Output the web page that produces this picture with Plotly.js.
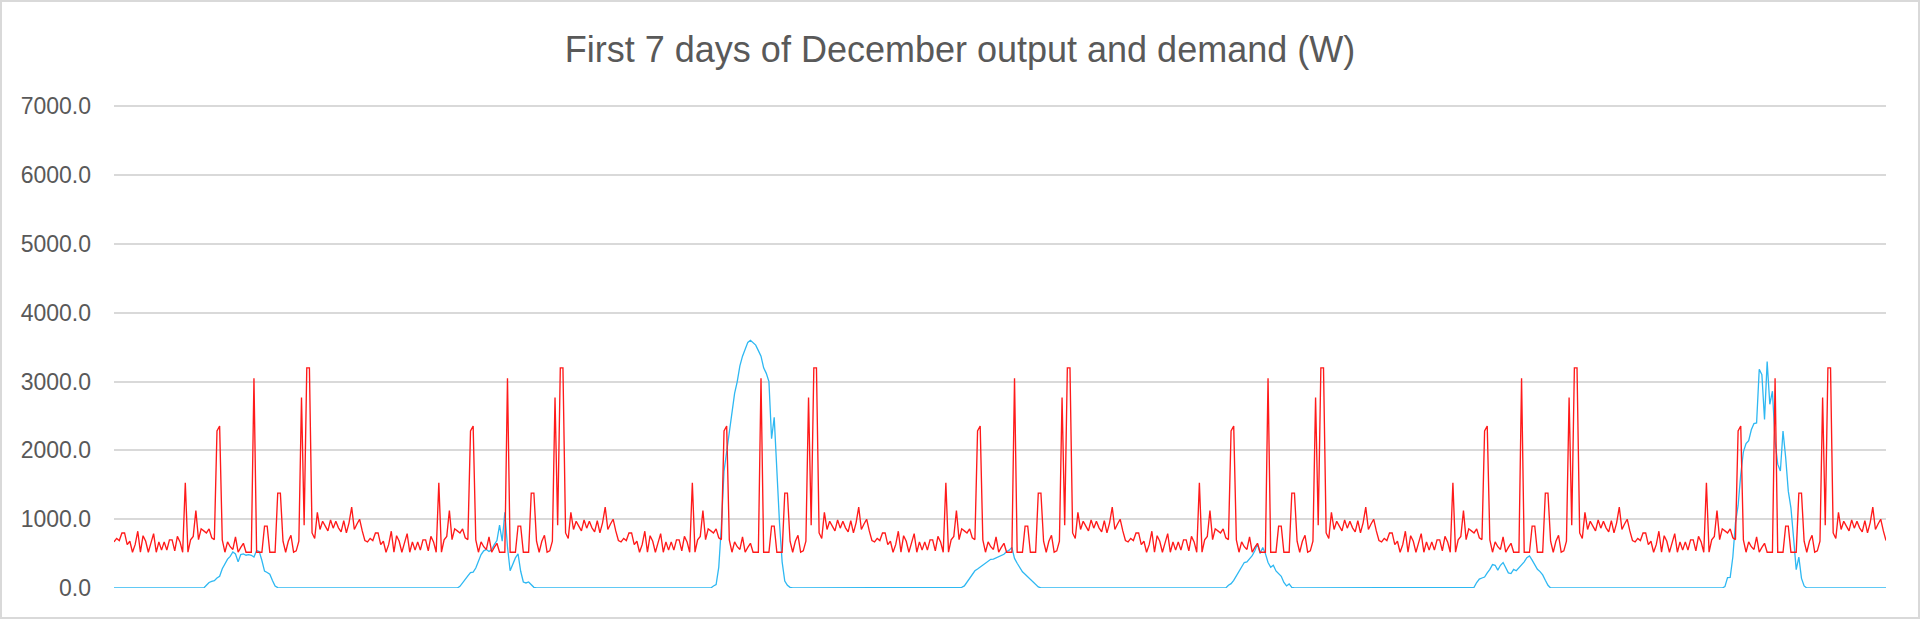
<!DOCTYPE html>
<html>
<head>
<meta charset="utf-8">
<script src="https://cdn.plot.ly/plotly-3.0.1.min.js"></script>
<style>
html,body{margin:0;padding:0;background:#fff;}
#wrap{position:relative;width:1920px;height:619px;}
#chart{width:1920px;height:619px;}
#frame{position:absolute;left:0;top:0;width:1920px;height:619px;box-sizing:border-box;border:2px solid #d9d9d9;pointer-events:none;}
</style>
</head>
<body>
<div id="wrap"><div id="chart"></div><div id="frame"></div></div>
<script>
// Chart text
const chartTitle = 'First 7 days of December output and demand (W)';
const yTickValues = [0, 1000, 2000, 3000, 4000, 5000, 6000, 7000];

// Demand (W), 15-minute steps, one day (the same profile is shown on every day)
const demandDay = [
  670,720,690,800,800,630,680,520,630,825,
  520,760,680,520,655,790,520,670,550,670,
  550,700,700,540,750,670,520,1529,520,700,
  750,1126,704,860,830,800,860,730,704,2282,
  2354,700,520,670,600,560,743,520,590,650,
  520,520,520,3050,520,520,520,900,900,520,
  520,520,1380,1380,680,520,680,767,520,540,
  680,2767,913,3200,3200,800,720,1100,850,971,
  900,830,990,870,970,874,816,980,801,947,
  1175,850,930,1000,830,690
];

// Output (W), 15-minute steps, day by day
const outputDay1 = [
  0,0,0,0,0,0,0,0,0,0,
  0,0,0,0,0,0,0,0,0,0,
  0,0,0,0,0,0,0,0,0,0,
  0,0,0,0,0,40,80,97,107,146,
  170,280,350,420,460,524,495,380,485,495,
  476,485,476,450,545,530,400,245,225,200,
  110,30,5,0,0,0,0,0,0,0,
  0,0,0,0,0,0,0,0,0,0,
  0,0,0,0,0,0,0,0,0,0,
  0,0,0,0,0,0
];
const outputDay2 = [
  0,0,0,0,0,0,0,0,0,0,
  0,0,0,0,0,0,0,0,0,0,
  0,0,0,0,0,0,0,0,0,0,
  0,0,0,0,0,25,80,130,175,225,
  230,291,388,485,540,560,530,560,630,689,
  913,680,1100,600,250,360,437,495,243,87,
  73,87,45,10,0,0,0,0,0,0,
  0,0,0,0,0,0,0,0,0,0,
  0,0,0,0,0,0,0,0,0,0,
  0,0,0,0,0,0
];
const outputDay3 = [
  0,0,0,0,0,0,0,0,0,0,
  0,0,0,0,0,0,0,0,0,0,
  0,0,0,0,0,0,0,0,0,0,
  0,0,0,0,0,30,50,300,900,1700,
  2000,2280,2550,2830,3000,3230,3370,3480,3570,3600,
  3570,3530,3450,3370,3200,3120,3000,2170,2480,1700,
  950,380,100,40,10,0,0,0,0,0,
  0,0,0,0,0,0,0,0,0,0,
  0,0,0,0,0,0,0,0,0,0,
  0,0,0,0,0,0
];
const outputDay4 = [
  0,0,0,0,0,0,0,0,0,0,
  0,0,0,0,0,0,0,0,0,0,
  0,0,0,0,0,0,0,0,0,0,
  0,0,0,10,30,90,150,200,250,275,
  305,335,365,400,417,420,440,455,470,490,
  530,550,590,430,360,290,235,200,160,120,
  80,50,15,3,0,0,0,0,0,0,
  0,0,0,0,0,0,0,0,0,0,
  0,0,0,0,0,0,0,0,0,0,
  0,0,0,0,0,0
];
const outputDay5 = [
  0,0,0,0,0,0,0,0,0,0,
  0,0,0,0,0,0,0,0,0,0,
  0,0,0,0,0,0,0,0,0,0,
  0,0,0,0,0,0,0,0,40,63,
  110,175,235,296,370,380,420,470,540,640,
  500,590,500,370,300,330,248,210,170,80,
  30,60,10,0,0,0,0,0,0,0,
  0,0,0,0,0,0,0,0,0,0,
  0,0,0,0,0,0,0,0,0,0,
  0,0,0,0,0,0
];
const outputDay6 = [
  0,0,0,0,0,0,0,0,0,0,
  0,0,0,0,0,0,0,0,0,0,
  0,0,0,0,0,0,0,0,0,0,
  0,0,0,0,0,10,80,130,145,160,
  220,270,340,330,260,330,370,300,220,210,
  270,250,296,330,380,440,466,405,335,272,
  238,190,112,40,0,0,0,0,0,0,
  0,0,0,0,0,0,0,0,0,0,
  0,0,0,0,0,0,0,0,0,0,
  0,0,0,0,0,0
];
const outputDay7 = [
  0,0,0,0,0,0,0,0,0,0,
  0,0,0,0,0,0,0,0,0,0,
  0,0,0,0,0,0,0,0,0,0,
  0,0,0,0,20,150,155,450,950,1200,
  1650,1980,2100,2140,2300,2390,2400,3180,3100,2450,
  3290,2670,2860,2136,1800,1700,2282,1900,1408,1165,
  728,267,450,140,30,0,0,0,0,0,
  0,0,0,0,0,0,0,0,0,0,
  0,0,0,0,0,0,0,0,0,0,
  0,0,0,0,0,0
];

const outputDays = [outputDay1, outputDay2, outputDay3, outputDay4, outputDay5, outputDay6, outputDay7];
const output = [].concat(...outputDays);
const demand = [].concat(...outputDays.map(() => demandDay));
const steps = output.map((_, i) => i);

const font = 'Liberation Sans, Arial, sans-serif';

const traces = [
  {x: steps, y: output, type: 'scatter', mode: 'lines', name: 'Output',
   line: {color: '#2eb8f2', width: 1.3}, hoverinfo: 'skip'},
  {x: steps, y: demand, type: 'scatter', mode: 'lines', name: 'Demand',
   line: {color: '#ff1a1a', width: 1.35}, hoverinfo: 'skip'}
];

const layout = {
  width: 1920, height: 619,
  margin: {l: 114, r: 34, t: 104, b: 31, pad: 0},
  paper_bgcolor: '#ffffff', plot_bgcolor: '#ffffff',
  showlegend: false,
  title: {text: chartTitle, font: {family: font, size: 36, color: '#595959'},
          x: 0.5, xref: 'container', xanchor: 'center',
          y: 1 - 49/619, yref: 'container', yanchor: 'middle'},
  xaxis: {range: [0, steps.length - 1], showgrid: false, zeroline: false,
          showticklabels: false, ticks: '', showline: false, fixedrange: true},
  yaxis: {range: [0, 7035], tickvals: yTickValues, tickformat: '.1f',
          showgrid: true, gridcolor: '#d9d9d9', gridwidth: 2, zeroline: false,
          showline: false, ticks: '', ticklabelstandoff: 22,
          tickfont: {family: font, size: 23, color: '#595959'}, fixedrange: true}
};

Plotly.newPlot('chart', traces, layout, {displayModeBar: false, staticPlot: true});
</script>
</body>
</html>
